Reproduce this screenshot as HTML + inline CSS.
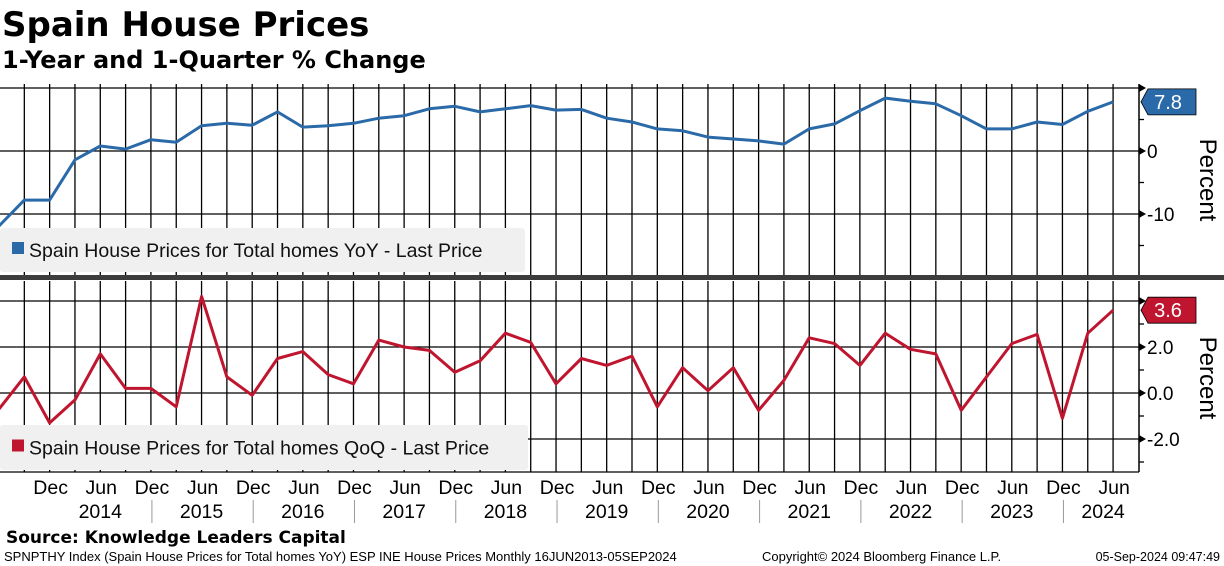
<!DOCTYPE html>
<html><head><meta charset="utf-8"><style>
body{margin:0;background:#fff;width:1224px;height:566px;overflow:hidden}
svg{display:block;font-family:"Liberation Sans",sans-serif}
</style></head><body>
<svg id="chart" width="1224" height="566" xmlns="http://www.w3.org/2000/svg">
<text x="2" y="36" font-size="34" font-weight="bold" font-family="DejaVu Sans, sans-serif">Spain House Prices</text>
<text x="2" y="68" font-size="24" font-weight="bold" font-family="DejaVu Sans, sans-serif">1-Year and 1-Quarter % Change</text>
<g id="grid"></g>
<g id="series"></g>
<g id="axes"></g>
<text x="6" y="543" font-size="17" font-weight="bold" font-family="DejaVu Sans, sans-serif">Source: Knowledge Leaders Capital</text>
<text x="4" y="561" font-size="13">SPNPTHY Index (Spain House Prices for Total homes YoY) ESP INE House Prices  Monthly 16JUN2013-05SEP2024</text>
<text x="762" y="561" font-size="13">Copyright© 2024 Bloomberg Finance L.P.</text>
<text x="1220" y="561" font-size="12.5" text-anchor="end">05-Sep-2024 09:47:49</text>
</svg>
<script>
const quarters=['Jun13','Sep13','Dec13','Mar14','Jun14','Sep14','Dec14','Mar15','Jun15','Sep15','Dec15','Mar16','Jun16','Sep16','Dec16','Mar17','Jun17','Sep17','Dec17','Mar18','Jun18','Sep18','Dec18','Mar19','Jun19','Sep19','Dec19','Mar20','Jun20','Sep20','Dec20','Mar21','Jun21','Sep21','Dec21','Mar22','Jun22','Sep22','Dec22','Mar23','Jun23','Sep23','Dec23','Mar24','Jun24'];
const yoy=[-11.9,-7.8,-7.8,-1.4,0.8,0.3,1.8,1.4,4.0,4.4,4.1,6.2,3.8,4.0,4.4,5.2,5.6,6.7,7.1,6.2,6.7,7.2,6.5,6.6,5.2,4.6,3.5,3.2,2.2,1.9,1.6,1.1,3.5,4.3,6.4,8.4,7.9,7.5,5.6,3.5,3.5,4.6,4.2,6.3,7.8];
const qoq=[-0.7,0.7,-1.3,-0.3,1.7,0.2,0.2,-0.6,4.2,0.7,-0.1,1.5,1.8,0.8,0.4,2.3,2.0,1.85,0.9,1.4,2.6,2.2,0.4,1.5,1.2,1.6,-0.6,1.1,0.1,1.1,-0.75,0.55,2.4,2.15,1.2,2.6,1.9,1.7,-0.75,0.7,2.15,2.55,-1.1,2.6,3.6];
const topTicks=[10,0,-10];
const botTicks=['4.0','2.0','0.0','-2.0'];
const years=['2014','2015','2016','2017','2018','2019','2020','2021','2022','2023','2024'];

const NS='http://www.w3.org/2000/svg';
const X0=-1,STEP=25.32,RIGHT=1139;
const x=i=>X0+i*STEP;
const yTop=v=>151-6.3*v;
const yBot=v=>393-23*v;
function mk(tag,attrs,parent,text){const e=document.createElementNS(NS,tag);for(const k in attrs)e.setAttribute(k,attrs[k]);if(text!=null)e.textContent=text;parent.appendChild(e);return e;}
const grid=document.getElementById('grid'),ser=document.getElementById('series'),ax=document.getElementById('axes');
const panels=[{t:84,b:276,f:yTop,major:[10,0,-10],minor:[5,-5,-15]},{t:281,b:472,f:yBot,major:[4,2,0,-2],minor:[3,1,-1,-3]}];
panels.forEach((p,pi)=>{
  for(let i=0;i<quarters.length;i++){const l=mk('line',{x1:x(i),x2:x(i),y1:p.t,y2:p.b,stroke:'#000','stroke-width':1.3},grid);
    
    }
  p.major.forEach(v=>{const l=mk('line',{x1:0,x2:RIGHT,y1:p.f(v),y2:p.f(v),stroke:'#000','stroke-width':1.3},grid);
    
    
    mk('path',{d:`M${RIGHT} ${p.f(v)-4}L${RIGHT+7} ${p.f(v)}L${RIGHT} ${p.f(v)+4}Z`,fill:'#000'},ax);});
  p.minor.forEach(v=>{mk('line',{x1:RIGHT,x2:RIGHT+5,y1:p.f(v),y2:p.f(v),stroke:'#000','stroke-width':1.3},ax);});
  const a=mk('line',{x1:RIGHT,x2:RIGHT,y1:p.t,y2:p.b,stroke:'#000','stroke-width':1.5},ax);
  
  
});
const sep=mk('rect',{x:0,y:275,width:1224,height:5,fill:'#3c3c3c'},ax);


mk('line',{x1:0,x2:RIGHT,y1:472,y2:472,stroke:'#000','stroke-width':1.3},ax);
topTicks.forEach(v=>{if(v===10)return;const t=mk('text',{x:1147,y:yTop(v)+7,'font-size':19},ax,String(v));
  
  });
botTicks.forEach(s=>{if(s==='4.0')return;const t=mk('text',{x:1147,y:yBot(parseFloat(s))+7,'font-size':19},ax,s);
  
  });
[[180,'yoy-axis-title'],[378,'qoq-axis-title']].forEach(([cy,n])=>{const t=mk('text',{x:1200,y:cy,'font-size':24,'text-anchor':'middle',transform:`rotate(90 1200 ${cy})`},ax,'Percent');
  
  });
[[228,272,'#2b6aa8','Spain House Prices for Total homes YoY - Last Price','yoy-legend',525],[425,470,'#c0152f','Spain House Prices for Total homes QoQ - Last Price','qoq-legend',528]].forEach(([t,b,c,txt,n,w])=>{
  const g=mk('g',{},grid);
  
  
  mk('rect',{x:0,y:t,width:w,height:b-t,rx:3,fill:'#f0f0f0'},g);
  mk('rect',{x:12,y:(t+b)/2-8,width:12,height:12,fill:c},g);
  mk('text',{x:29,y:(t+b)/2+7,'font-size':19.5,fill:'#111'},g,txt);
});
function line(data,f,color,name){const d=data.map((v,i)=>(i?'L':'M')+x(i).toFixed(1)+' '+f(v).toFixed(1)).join('');
  const p=mk('path',{d:d,fill:'none',stroke:color,'stroke-width':3,'stroke-linejoin':'round'},ser);
  
  }
line(yoy,yTop,'#2b6aa8','yoy-line');
line(qoq,yBot,'#c0152f','qoq-line');
[[yoy,yTop,'#2b6aa8','yoy-last-value'],[qoq,yBot,'#c0152f','qoq-last-value']].forEach(([d,f,c,n])=>{
  const v=d[d.length-1],yy=f(v);
  const g=mk('g',{},ax);
  
  
  mk('path',{d:`M1141 ${yy}L1148 ${yy-13}L1196 ${yy-13}L1196 ${yy+13}L1148 ${yy+13}Z`,fill:c,stroke:'#000','stroke-width':0.8},g);
  mk('text',{x:1168,y:yy+7,'font-size':20,fill:'#fff','text-anchor':'middle'},g,v.toFixed(1));
});
quarters.forEach((q,i)=>{const m=q.slice(0,3);if(i>0&&(m==='Dec'||m==='Jun')){const t=mk('text',{x:x(i)+1,y:494,'font-size':19.5,'text-anchor':'middle'},ax,m);
  
  }
  if(m==='Dec'&&i>2){mk('line',{x1:x(i)+1,x2:x(i)+1,y1:500,y2:523,stroke:'#999','stroke-width':1},ax);}});
years.forEach((yr,k)=>{const i=4+4*k;const cx=k===years.length-1?x(i)-10:x(i);const t=mk('text',{x:cx,y:518,'font-size':19.5,'text-anchor':'middle'},ax,yr);
  
  });
</script>
</body></html>
